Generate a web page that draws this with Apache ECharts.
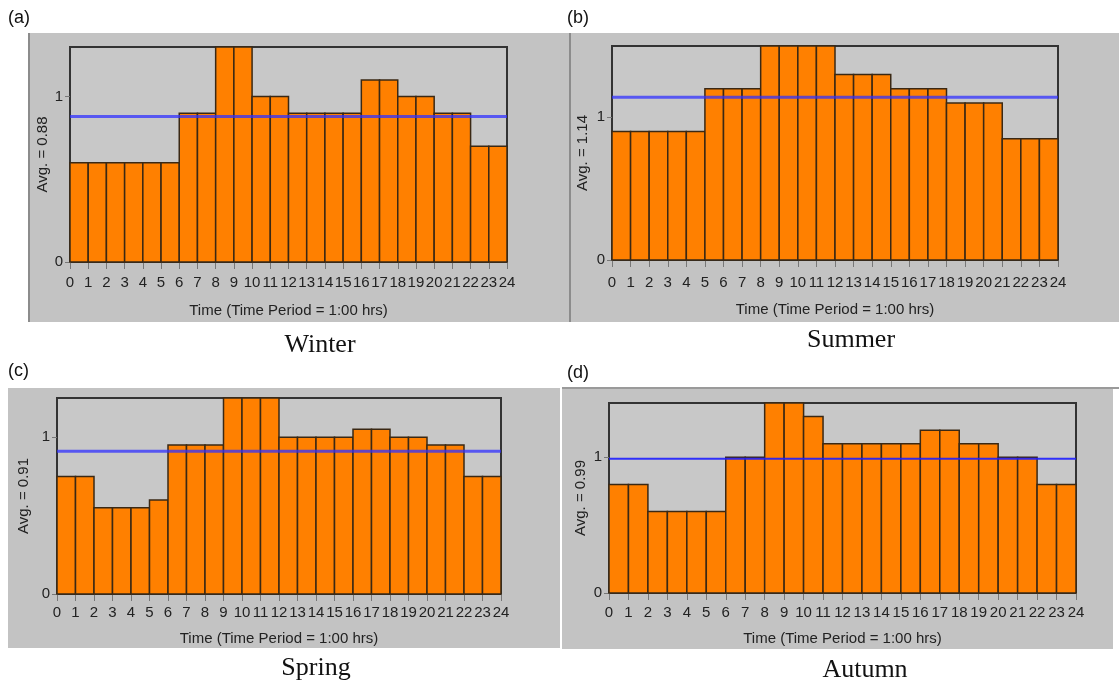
<!DOCTYPE html>
<html><head><meta charset="utf-8">
<script src="https://cdn.jsdelivr.net/npm/echarts@6/dist/echarts.min.js"></script>
<style>html,body{margin:0;padding:0;background:#fff}#c{width:1119px;height:683px}</style>
</head><body><div id="c"></div>
<script>
// ---- data ----
const hours = [0,1,2,3,4,5,6,7,8,9,10,11,12,13,14,15,16,17,18,19,20,21,22,23];
const xTickLabels = ['0','1','2','3','4','5','6','7','8','9','10','11','12','13','14','15','16','17','18','19','20','21','22','23','24'];
const yTickValues = [0, 1];
const panelLetters = ['(a)', '(b)', '(c)', '(d)'];
const seasons = ['Winter', 'Summer', 'Spring', 'Autumn'];
const averages = [0.88, 1.14, 0.91, 0.99];
const yMax = [1.3, 1.5, 1.25, 1.4];
const winter = [0.6,0.6,0.6,0.6,0.6,0.6,0.9,0.9,1.3,1.3,1.0,1.0,0.9,0.9,0.9,0.9,1.1,1.1,1.0,1.0,0.9,0.9,0.7,0.7];
const summer = [0.9,0.9,0.9,0.9,0.9,1.2,1.2,1.2,1.5,1.5,1.5,1.5,1.3,1.3,1.3,1.2,1.2,1.2,1.1,1.1,1.1,0.85,0.85,0.85];
const spring = [0.75,0.75,0.55,0.55,0.55,0.6,0.95,0.95,0.95,1.25,1.25,1.25,1.0,1.0,1.0,1.0,1.05,1.05,1.0,1.0,0.95,0.95,0.75,0.75];
const autumn = [0.8,0.8,0.6,0.6,0.6,0.6,1.0,1.0,1.4,1.4,1.3,1.1,1.1,1.1,1.1,1.1,1.2,1.2,1.1,1.1,1.0,1.0,0.8,0.8];
const seriesData = [winter, summer, spring, autumn];
const xAxisName = 'Time (Time Period = 1:00 hrs)';

// ---- layout (styles only) ----
const grids = [
  {left: 70, top: 47, width: 437, height: 215},
  {left: 612, top: 46, width: 446, height: 214},
  {left: 57, top: 398, width: 444, height: 196},
  {left: 609, top: 403, width: 467, height: 190}
];
const xNameGap = [41, 42, 37, 38];
const xLabelMargin = [13, 15, 11, 12];
const yNameGap = [20, 22, 26, 21];
const panels = [
  {x: 28, y: 33, w: 541, h: 289},
  {x: 571, y: 33, w: 548, h: 289},
  {x: 8, y: 388, w: 552, h: 260},
  {x: 562, y: 388, w: 551, h: 261}
];
const letterPos = [[8, 18], [567, 18], [8, 371], [567, 373]];
const captionPos = [[320, 345], [851, 340], [316, 668], [865, 670]];

const FONT = '"Liberation Sans", Arial, sans-serif';

function renderBar(params, api) {
  const x = api.value(0), v = api.value(1);
  const p0 = api.coord([x, 0]);
  const p1 = api.coord([x + 1, v]);
  return {
    type: 'rect',
    shape: {x: p0[0], y: p1[1], width: p1[0] - p0[0], height: p0[1] - p1[1]},
    style: {fill: '#ff8000', stroke: '#3a2814', lineWidth: 1.5}
  };
}

const option = {
  animation: false,
  backgroundColor: '#ffffff',
  graphic: [],
  grid: [], xAxis: [], yAxis: [], series: []
};

panels.forEach((p, i) => {
  option.graphic.push({type: 'rect', z: -10, shape: {x: p.x, y: p.y, width: p.w, height: p.h},
    style: {fill: '#c3c3c3'}});
});
option.graphic.push({type: 'rect', z: -9, shape: {x: 28, y: 33, width: 2, height: 289}, style: {fill: '#8c8c8c'}});
option.graphic.push({type: 'rect', z: -9, shape: {x: 569, y: 33, width: 2, height: 289}, style: {fill: '#8c8c8c'}});
option.graphic.push({type: 'rect', z: -9, shape: {x: 562, y: 387, width: 557, height: 2}, style: {fill: '#9a9a9a'}});

panelLetters.forEach((t, i) => {
  option.graphic.push({type: 'text', x: letterPos[i][0], y: letterPos[i][1],
    style: {text: t, font: '18px ' + FONT, fill: '#111', textVerticalAlign: 'middle'}});
});
seasons.forEach((t, i) => {
  option.graphic.push({type: 'text', x: captionPos[i][0], y: captionPos[i][1],
    style: {text: t, font: '26px "Liberation Serif", "Times New Roman", serif', fill: '#111',
      textAlign: 'center', textVerticalAlign: 'middle'}});
});

seriesData.forEach((arr, i) => {
  const g = grids[i];
  option.grid.push(Object.assign({show: true, backgroundColor: '#c8c8c8', borderColor: '#333',
    borderWidth: 2, outerBoundsMode: 'none', containLabel: false}, g));
  option.xAxis.push({
    type: 'value', gridIndex: i, min: 0, max: 24, interval: 1,
    name: xAxisName, nameLocation: 'middle', nameGap: xNameGap[i],
    nameTextStyle: {fontFamily: FONT, fontSize: 15, color: '#222'},
    axisLine: {show: true, onZero: false, lineStyle: {color: '#333', width: 2}},
    axisTick: {show: true, length: 7, lineStyle: {color: '#777'}},
    axisLabel: {margin: xLabelMargin[i], fontFamily: FONT, fontSize: 15, color: '#222', hideOverlap: false,
      formatter: v => xTickLabels[v]},
    splitLine: {show: false}
  });
  option.yAxis.push({
    type: 'value', gridIndex: i, min: 0, max: yMax[i], interval: 1,
    name: 'Avg. = ' + averages[i].toFixed(2), nameLocation: 'middle', nameGap: yNameGap[i], nameRotate: 90,
    nameTextStyle: {fontFamily: FONT, fontSize: 15, color: '#222'},
    axisLine: {show: true, lineStyle: {color: '#333', width: 2}},
    axisTick: {show: true, length: 5, lineStyle: {color: '#777'}, customValues: yTickValues},
    axisLabel: {margin: 7, fontFamily: FONT, fontSize: 15, color: '#222', customValues: yTickValues},
    splitLine: {show: false}
  });
  option.series.push({
    type: 'custom', xAxisIndex: i, yAxisIndex: i, renderItem: renderBar,
    encode: {x: 0, y: 1}, z: 2,
    data: hours.map((h, k) => [h, arr[k]])
  });
  option.series.push({
    type: 'line', xAxisIndex: i, yAxisIndex: i, symbol: 'none', z: 5,
    lineStyle: {color: i === 3 ? 'rgba(30,30,255,0.9)' : 'rgba(50,50,255,0.75)', width: i === 3 ? 2 : 3},
    data: [[0, averages[i]], [24, averages[i]]]
  });
});

const chart = echarts.init(document.getElementById('c'), null, {renderer: 'canvas'});
chart.setOption(option);
</script>
</body></html>
